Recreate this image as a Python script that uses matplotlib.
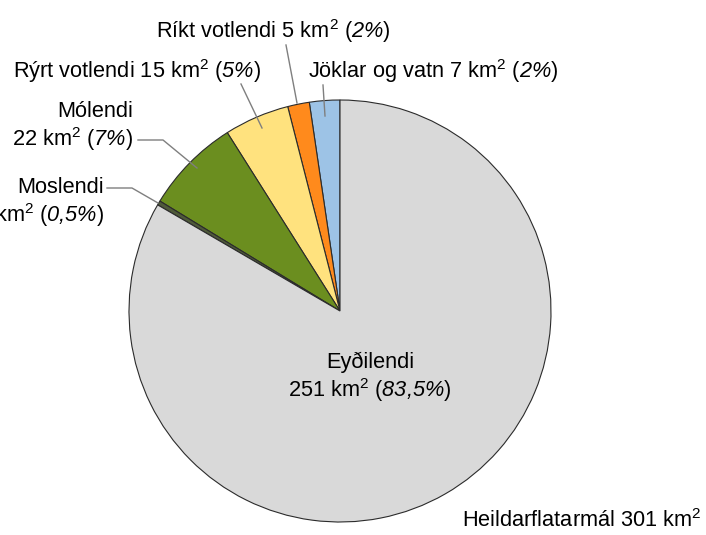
import numpy as np
import matplotlib.pyplot as plt

plt.rcParams['font.family'] = ['Liberation Sans', 'DejaVu Sans']
plt.rcParams['mathtext.fontset'] = 'custom'
plt.rcParams['mathtext.rm'] = 'Liberation Sans'
# bf slot used for italic digits (mathtext "it" keeps digits upright)
plt.rcParams['mathtext.bf'] = 'Liberation Sans:italic'

# counterclockwise from 12 o'clock
categories = ['Jöklar og vatn', 'Ríkt votlendi', 'Rýrt votlendi', 'Mólendi', 'Moslendi', 'Eyðilendi']
areas = [7, 5, 15, 22, 1, 251]
percents = ['2', '2', '5', '7', '0{,}5', '83{,}5']
colors = ['#9dc3e6', '#ff8a1c', '#ffe27e', '#6b8e1f', '#4f5a3a', '#d9d9d9']
total = 301

W, H = 706, 535
fig = plt.figure(figsize=(W / 100, H / 100), dpi=100)
ax = fig.add_axes([0, 0, 1, 1])

def py(y):
    # pixel row -> data y
    return H - y

ax.pie(areas, colors=colors, startangle=90, counterclock=True,
       center=(340, py(311)), radius=211, frame=True,
       wedgeprops=dict(edgecolor='#2b2b2b', linewidth=0.8))
ax.set_xlim(0, W)
ax.set_ylim(0, H)
ax.set_aspect('equal')
ax.axis('off')

def pct(i):
    return f"$\\mathbf{{{percents[i]}\\%}}$"

def lbl(i, sep=' '):
    return f"{categories[i]}{sep}{areas[i]} km$^2$ ({pct(i)})"

fs = 15.7
lc = '#7f7f7f'

ax.text(273, py(31), lbl(1), ha='center', va='center', fontsize=fs)
ax.text(137, py(71), lbl(2), ha='center', va='center', fontsize=fs)
ax.text(433, py(71), lbl(0), ha='center', va='center', fontsize=fs)
ax.text(133, py(127), lbl(3, '\n'), ha='right', va='center', fontsize=fs, linespacing=1.12)
ax.text(104, py(203), lbl(4, '\n'), ha='right', va='center', fontsize=fs, linespacing=1.12)
ax.text(370, py(378), lbl(5, '\n'), ha='center', va='center', fontsize=fs, linespacing=1.12)
ax.text(702, py(521), f"Heildarflatarmál {total} km$^2$",
        ha='right', va='center', fontsize=fs)

# leader lines
ax.plot([286, 297], [py(45), py(103)], color=lc, lw=1)
ax.plot([323, 325], [py(85), py(116)], color=lc, lw=1)
ax.plot([241, 262], [py(84), py(128)], color=lc, lw=1)
ax.plot([138, 163, 197], [py(140), py(140), py(168)], color=lc, lw=1)
ax.plot([107, 132, 158], [py(188), py(188), py(203)], color=lc, lw=1)

fig.savefig('out.png', dpi=100)
